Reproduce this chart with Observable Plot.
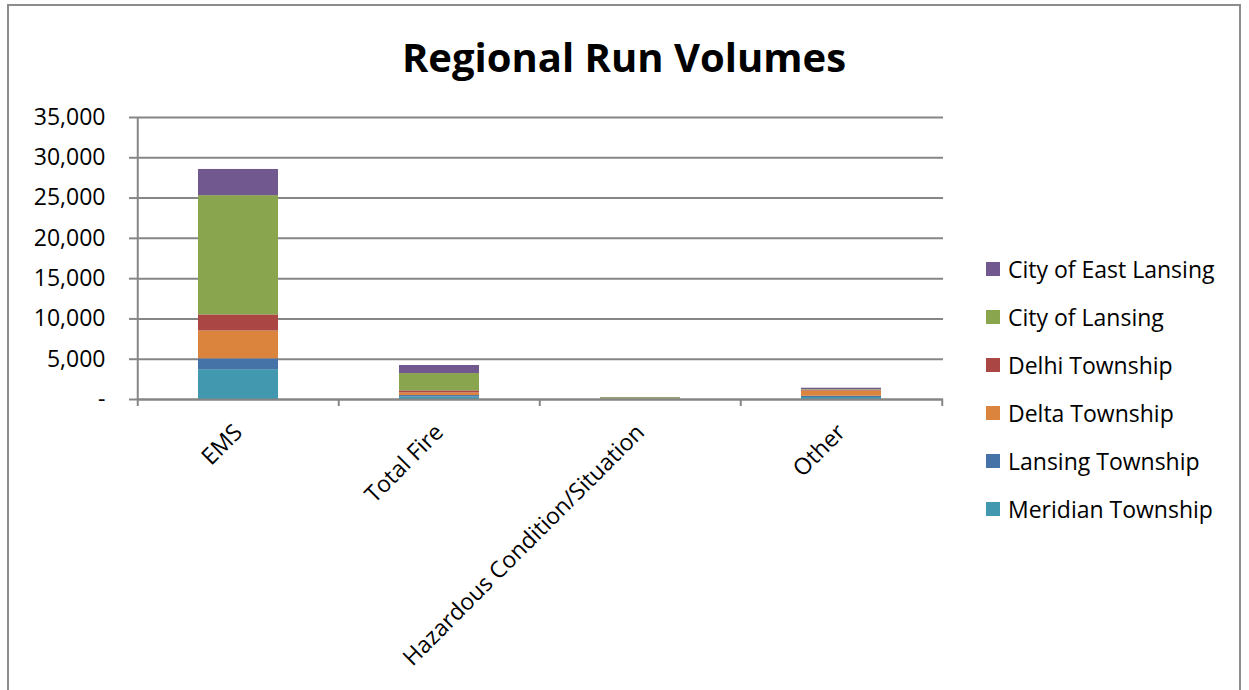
<!DOCTYPE html>
<html><head><meta charset="utf-8">
<script src="https://cdn.jsdelivr.net/npm/d3@7"></script>
<script src="https://cdn.jsdelivr.net/npm/@observablehq/plot@0.6"></script>
<style>
body{margin:0;background:#fff;font-family:"Open Sans",sans-serif;}
#wrap{position:relative;width:1249px;height:690px;overflow:hidden;background:#fff;}
#border{position:absolute;left:7px;top:4px;width:1234px;height:720px;border:2px solid #8c8c8c;box-sizing:border-box;}
#title{position:absolute;left:8px;width:1232px;top:30px;text-align:center;font-weight:bold;font-size:40px;line-height:54px;color:#000;}
#chart{position:absolute;left:0;top:0;}
#legend{position:absolute;left:986px;top:245px;}
.row{display:flex;align-items:center;height:48px;}
.sw{width:14px;height:14px;margin-right:8px;flex:none;}
.lab{font-size:23px;color:#000;white-space:nowrap;}
</style></head>
<body>
<div id="wrap">
  <div id="border"></div>
  <div id="title">Regional Run Volumes</div>
  <div id="chart"></div>
  <div id="legend"></div>
</div>
<script>
const categories = ["EMS", "Total Fire", "Hazardous Condition/Situation", "Other"];
const seriesNames = ["Meridian Township", "Lansing Township", "Delta Township", "Delhi Township", "City of Lansing", "City of East Lansing"];
const seriesColors = ["#4198AF", "#4572A7", "#DB843D", "#AA4643", "#89A54E", "#71588F"];
const meridianTownship = [3700, 300, 20, 250];
const lansingTownship = [1350, 190, 10, 150];
const deltaTownship = [3450, 330, 25, 650];
const delhiTownship = [2000, 250, 10, 100];
const cityOfLansing = [14800, 2150, 160, 80];
const cityOfEastLansing = [3250, 1000, 25, 170];
const yTicks = [0, 5000, 10000, 15000, 20000, 25000, 30000, 35000];

const seriesValues = [meridianTownship, lansingTownship, deltaTownship, delhiTownship, cityOfLansing, cityOfEastLansing];
const data = [];
seriesNames.forEach((s, si) => categories.forEach((c, ci) => data.push({category: c, series: s, value: seriesValues[si][ci]})));

const W = 1000, H = 690, mL = 137, mR = 57, mT = 117, mB = 291;
const step = (W - mL - mR) / categories.length;
const grey = "#868686";

const plot = Plot.plot({
  width: W, height: H,
  marginLeft: mL, marginRight: mR, marginTop: mT, marginBottom: mB,
  style: {fontFamily: "'Open Sans', sans-serif", background: "transparent", color: "#000", overflow: "visible"},
  x: {domain: categories, paddingInner: 0.6, paddingOuter: 0.3, label: null},
  y: {domain: [0, 35000], label: null},
  color: {domain: seriesNames, range: seriesColors},
  marks: [
    Plot.gridY(yTicks, {stroke: grey, strokeOpacity: 1, strokeWidth: 2}),
    Plot.axisY(yTicks, {tickSize: 8, tickPadding: 24, stroke: grey, strokeWidth: 2, fontSize: 23,
      tickFormat: d => d === 0 ? "-" : d3.format(",")(d), label: null}),
    Plot.barY(data, {x: "category", y: "value", fill: "series", order: seriesNames}),
    Plot.ruleY([0], {stroke: grey, strokeWidth: 2}),
    Plot.ruleX([categories[0]], {dx: -step / 2, stroke: grey, strokeWidth: 2}),
    Plot.axisX(categories, {tickSize: 7, dx: -step / 2, stroke: grey, strokeWidth: 2, tickFormat: () => "", label: null}),
    Plot.axisX([categories[categories.length - 1]], {tickSize: 7, dx: step / 2, stroke: grey, strokeWidth: 2, tickFormat: () => "", label: null}),
    Plot.axisX(categories, {tickSize: 0, tickPadding: 29, tickRotate: -45, fontSize: 23, label: null})
  ]
});
document.getElementById("chart").appendChild(plot);

const legend = document.getElementById("legend");
seriesNames.slice().reverse().forEach(name => {
  const row = document.createElement("div");
  row.className = "row";
  const sw = document.createElement("div");
  sw.className = "sw";
  sw.style.background = seriesColors[seriesNames.indexOf(name)];
  const lab = document.createElement("span");
  lab.className = "lab";
  lab.textContent = name;
  row.appendChild(sw); row.appendChild(lab);
  legend.appendChild(row);
});
</script>
</body></html>
